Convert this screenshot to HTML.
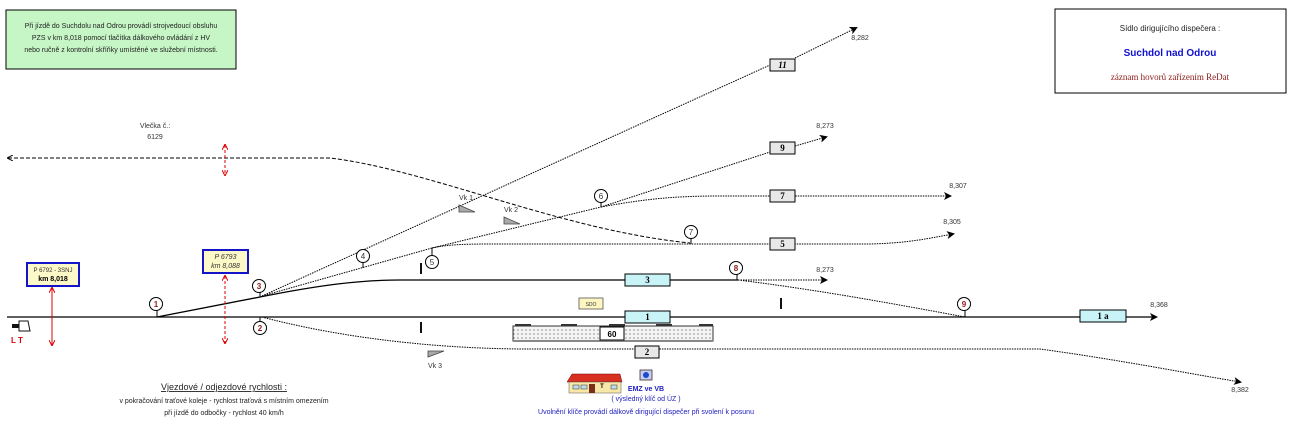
<!DOCTYPE html>
<html><head><meta charset="utf-8"><style>
html,body{margin:0;padding:0;background:#fff;}
svg{display:block;font-family:"Liberation Sans",sans-serif;}
</style></head><body>
<svg width="1309" height="428" viewBox="0 0 1309 428" xmlns="http://www.w3.org/2000/svg">
<defs>
<marker id="ar" markerWidth="8" markerHeight="8" refX="6" refY="4" orient="auto" markerUnits="userSpaceOnUse"><path d="M0,0 L8,4 L0,8 L2,4z" fill="#000"/></marker>
<marker id="ra" markerWidth="6" markerHeight="6" refX="5" refY="3" orient="auto-start-reverse" markerUnits="userSpaceOnUse"><path d="M0,0 L6,3 L0,6" fill="none" stroke="#d00" stroke-width="1"/></marker>
<marker id="la" markerWidth="6" markerHeight="6" refX="1" refY="3" orient="auto" markerUnits="userSpaceOnUse"><path d="M6,0 L0,3 L6,6" fill="none" stroke="#000" stroke-width="1"/></marker>
<pattern id="dots" width="4" height="4" patternUnits="userSpaceOnUse"><rect width="4" height="4" fill="#f4f4f4"/><circle cx="2" cy="2" r="0.6" fill="#555"/></pattern>
</defs>

<rect x="6" y="10" width="230" height="59" fill="#c6f5c6" stroke="#000" stroke-width="1"/>
<g font-size="7" fill="#222" text-anchor="middle">
<text x="121" y="28">Při jízdě do Suchdolu nad Odrou provádí strojvedoucí obsluhu</text>
<text x="121" y="40">PZS v km 8,018 pomocí tlačítka dálkového ovládání z HV</text>
<text x="121" y="52">nebo ručně z kontrolní skříňky umístěné ve služební místnosti.</text>
</g>

<rect x="1055" y="9" width="231" height="84" fill="#fff" stroke="#000" stroke-width="1"/>
<text x="1170" y="31" font-size="8" text-anchor="middle" fill="#222">Sídlo dirigujícího dispečera :</text>
<text x="1170" y="56" font-size="10" font-weight="bold" text-anchor="middle" fill="#1010d0">Suchdol nad Odrou</text>
<text x="1170" y="80" font-size="9" text-anchor="middle" fill="#8b1a1a" font-family="Liberation Serif,serif">záznam hovorů zařízením ReDat</text>

<text x="155" y="128" font-size="7" text-anchor="middle" fill="#333">Vlečka č.:</text>
<text x="155" y="139" font-size="7" text-anchor="middle" fill="#333">6129</text>
<path d="M8,158 L330,158 C430,170 560,230 690,243" fill="none" stroke="#000" stroke-width="1" stroke-dasharray="4,2" marker-start="url(#la)"/>
<line x1="225" y1="145" x2="225" y2="175" stroke="#d00" stroke-width="1" stroke-dasharray="3,2" marker-start="url(#ra)" marker-end="url(#ra)"/>

<line x1="7" y1="317" x2="1156" y2="317" stroke="#000" stroke-width="1.3" marker-end="url(#ar)"/>
<path d="M157,317 L260,297 C320,285 360,280 400,280 L738,280" fill="none" stroke="#000" stroke-width="1.3"/>
<path d="M738,280 L826,280" fill="none" stroke="#000" stroke-width="1" stroke-dasharray="1.5,1" marker-end="url(#ar)"/>
<path d="M738,280 C820,290 900,305 965,317" fill="none" stroke="#000" stroke-width="1" stroke-dasharray="1.5,1"/>

<g fill="none" stroke="#000" stroke-width="1" stroke-dasharray="1.5,1">
<path d="M262,296 L770,65"/>
<path d="M795,58 L856,28" marker-end="url(#ar)"/>
<path d="M262,296 L432,248 L601,207 L770,152"/>
<path d="M795,146 L826,137" marker-end="url(#ar)"/>
<path d="M601,207 C650,198 680,196 720,196 L950,196" marker-end="url(#ar)"/>
<path d="M432,248 C450,244 470,244 500,244 L870,244 C910,243 930,238 953,234" marker-end="url(#ar)"/>
<path d="M262,317 C330,335 420,348 520,349 L1040,349 C1120,360 1180,372 1240,382" marker-end="url(#ar)"/>
</g>

<g font-family="Liberation Serif,serif" font-size="9" font-weight="bold" text-anchor="middle">
<rect x="770" y="59" width="25" height="12" fill="#e8e8e8" stroke="#000"/><text x="782.5" y="68" font-style="italic">11</text>
<rect x="770" y="142" width="25" height="12" fill="#e8e8e8" stroke="#000"/><text x="782.5" y="151">9</text>
<rect x="770" y="190" width="25" height="12" fill="#e8e8e8" stroke="#000"/><text x="782.5" y="199">7</text>
<rect x="770" y="238" width="25" height="12" fill="#e8e8e8" stroke="#000"/><text x="782.5" y="247">5</text>
<rect x="625" y="274" width="45" height="12" fill="#c8f4f8" stroke="#000"/><text x="647.5" y="283">3</text>
<rect x="625" y="311" width="45" height="12" fill="#c8f4f8" stroke="#000"/><text x="647.5" y="320">1</text>
<rect x="1080" y="310" width="46" height="12" fill="#c8f4f8" stroke="#000"/><text x="1103" y="319">1 a</text>
<rect x="635" y="346" width="24" height="12" fill="#e8e8e8" stroke="#000"/><text x="647" y="355">2</text>
</g>

<g font-size="7" fill="#333" text-anchor="middle">
<text x="860" y="40">8,282</text>
<text x="825" y="128">8,273</text>
<text x="958" y="188">8,307</text>
<text x="952" y="224">8,305</text>
<text x="825" y="272">8,273</text>
<text x="1159" y="307">8,368</text>
<text x="1240" y="392">8,382</text>
</g>

<g font-size="8" text-anchor="middle" stroke-width="1">
<line x1="157" y1="310" x2="157" y2="317" stroke="#000"/><circle cx="156" cy="304" r="6.5" fill="#fff" stroke="#000"/><text x="156" y="307" fill="#8b1a1a" font-weight="bold">1</text>
<line x1="260" y1="317" x2="260" y2="322" stroke="#000"/><circle cx="260" cy="328" r="6.5" fill="#fff" stroke="#000"/><text x="260" y="331" fill="#8b1a1a" font-weight="bold">2</text>
<line x1="260" y1="291" x2="260" y2="297" stroke="#000"/><circle cx="259" cy="286" r="6.5" fill="#fff" stroke="#000"/><text x="259" y="289" fill="#8b1a1a" font-weight="bold">3</text>
<line x1="363" y1="262" x2="363" y2="268" stroke="#000"/><circle cx="363" cy="256" r="6.5" fill="#fff" stroke="#000"/><text x="363" y="259" fill="#333">4</text>
<line x1="432" y1="248" x2="432" y2="255" stroke="#000"/><circle cx="432" cy="262" r="6.5" fill="#fff" stroke="#000"/><text x="432" y="265" fill="#333">5</text>
<line x1="601" y1="201" x2="601" y2="207" stroke="#000"/><circle cx="601" cy="196" r="6.5" fill="#fff" stroke="#000"/><text x="601" y="199" fill="#333">6</text>
<line x1="691" y1="238" x2="691" y2="244" stroke="#000"/><circle cx="691" cy="232" r="6.5" fill="#fff" stroke="#000"/><text x="691" y="235" fill="#333">7</text>
<line x1="737" y1="274" x2="737" y2="280" stroke="#000"/><circle cx="736" cy="268" r="6.5" fill="#fff" stroke="#000"/><text x="736" y="271" fill="#8b1a1a" font-weight="bold">8</text>
<line x1="965" y1="310" x2="965" y2="317" stroke="#000"/><circle cx="964" cy="304" r="6.5" fill="#fff" stroke="#000"/><text x="964" y="307" fill="#8b1a1a" font-weight="bold">9</text>
</g>

<g fill="#111">
<rect x="420" y="263" width="2" height="11"/><rect x="420" y="322" width="2" height="11"/><rect x="780" y="298" width="2" height="11"/>
</g>

<g fill="#aaa" stroke="#444" stroke-width="0.8">
<path d="M459,205 L459,212 L475,212z"/><path d="M504,217 L504,224 L520,224z"/><path d="M428,357 L428,351 L444,351z"/>
</g>
<g font-size="7" fill="#333">
<text x="459" y="200">Vk 1</text><text x="504" y="212">Vk 2</text><text x="428" y="368">Vk 3</text>
</g>

<rect x="513" y="326" width="200" height="15" fill="url(#dots)" stroke="#333" stroke-width="1"/>
<rect x="513" y="340" width="200" height="2" fill="#888"/>
<g fill="#333"><rect x="515" y="324" width="16" height="2"/><rect x="561" y="324" width="16" height="2"/><rect x="609" y="324" width="16" height="2"/><rect x="656" y="324" width="16" height="2"/><rect x="699" y="324" width="14" height="2"/></g>
<rect x="600" y="327" width="24" height="13" fill="#fff" stroke="#000"/>
<text x="612" y="337" font-size="8" font-weight="bold" text-anchor="middle">60</text>

<rect x="579" y="298" width="24" height="11" fill="#fdf6c0" stroke="#555" stroke-width="0.8"/>
<text x="591" y="306" font-size="5" text-anchor="middle" fill="#333">SDO</text>

<rect x="27" y="263" width="52" height="23" fill="#fdf8c8" stroke="#1414c8" stroke-width="2"/>
<text x="53" y="272" font-size="6" text-anchor="middle" fill="#333">P 6792 - 3SNJ</text>
<text x="53" y="281" font-size="7" font-weight="bold" text-anchor="middle">km 8,018</text>
<line x1="52" y1="288" x2="52" y2="345" stroke="#d00" stroke-width="1" marker-start="url(#ra)" marker-end="url(#ra)"/>
<rect x="203" y="250" width="45" height="23" fill="#fdf8c8" stroke="#1414c8" stroke-width="2"/>
<text x="225.5" y="259" font-size="7" font-style="italic" text-anchor="middle" fill="#333">P 6793</text>
<text x="225.5" y="268" font-size="7" font-style="italic" text-anchor="middle" fill="#333">km 8,088</text>
<line x1="225" y1="276" x2="225" y2="343" stroke="#d00" stroke-width="1" stroke-dasharray="3,2" marker-start="url(#ra)" marker-end="url(#ra)"/>

<rect x="12" y="324" width="7" height="4" fill="#111"/><path d="M19,321 L28,321 L30,331 L19,331z" fill="#fff" stroke="#111" stroke-width="1"/>
<text x="11" y="343" font-size="8" font-weight="bold" fill="#d00">L T</text>

<text x="224" y="390" font-size="9" text-anchor="middle" fill="#222" text-decoration="underline">Vjezdové / odjezdové rychlosti :</text>
<text x="224" y="403" font-size="7" text-anchor="middle" fill="#222">v pokračování traťové koleje - rychlost traťová s místním omezením</text>
<text x="224" y="415" font-size="7" text-anchor="middle" fill="#222">při jízdě do odbočky - rychlost 40 km/h</text>

<path d="M567,382 L572,374 L620,374 L622,382z" fill="#d83020" stroke="#700" stroke-width="0.5"/>
<rect x="569" y="382" width="52" height="11" fill="#f8e8a8" stroke="#555" stroke-width="0.5"/>
<rect x="573" y="385" width="6" height="4" fill="#bde" stroke="#333" stroke-width="0.5"/>
<rect x="581" y="385" width="6" height="4" fill="#bde" stroke="#333" stroke-width="0.5"/>
<rect x="589" y="384" width="6" height="9" fill="#7a3018"/>
<rect x="611" y="385" width="6" height="4" fill="#bde" stroke="#333" stroke-width="0.5"/>
<text x="602" y="388" font-size="6" font-weight="bold" text-anchor="middle">T</text>
<rect x="640" y="370" width="12" height="10" fill="#cce" stroke="#333" stroke-width="0.8"/><circle cx="646" cy="375" r="3" fill="#1a4ad0"/>
<text x="646" y="391" font-size="7" font-weight="bold" text-anchor="middle" fill="#2020c0">EMZ ve VB</text>
<text x="646" y="401" font-size="7" text-anchor="middle" fill="#2020c0">( výsledný klíč od ÚZ )</text>
<text x="646" y="414" font-size="7" text-anchor="middle" fill="#2020c0">Uvolnění klíče provádí dálkově dirigující dispečer při svolení k posunu</text>
</svg>
</body></html>
